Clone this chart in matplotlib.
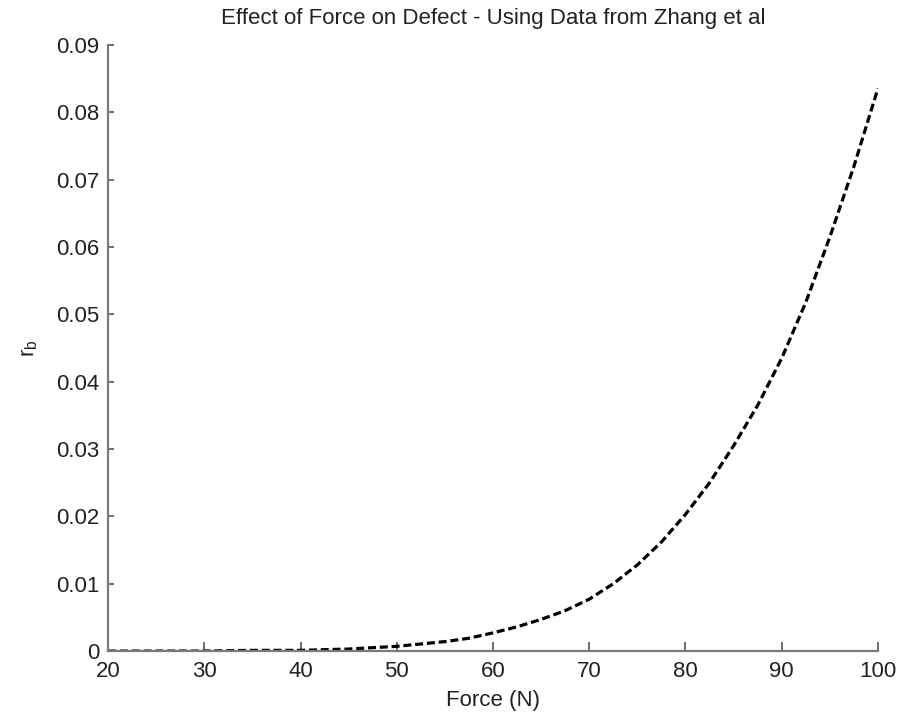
import numpy as np
import matplotlib
matplotlib.use('Agg')
import matplotlib.pyplot as plt

# force values (N) and the defect radius r_b
force = [20, 25, 30, 35, 40, 45, 50, 55, 57.5, 60, 62.5, 65, 67.5, 70, 72.5, 75,
         77.5, 80, 82.5, 85, 87.5, 90, 92.5, 95, 97.5, 100]
r_b = [0.0000, 0.0000, 0.0000, 0.0001, 0.0001, 0.0003, 0.0007, 0.0014, 0.0019, 0.0027,
       0.0036, 0.0047, 0.0060, 0.0077, 0.0100, 0.0128, 0.0162, 0.0203, 0.0250, 0.0305,
       0.0365, 0.0435, 0.0518, 0.0615, 0.0720, 0.0836]

xticks = [20, 30, 40, 50, 60, 70, 80, 90, 100]
yticks = [0, 0.01, 0.02, 0.03, 0.04, 0.05, 0.06, 0.07, 0.08, 0.09]
ytick_labels = ['0', '0.01', '0.02', '0.03', '0.04', '0.05', '0.06', '0.07', '0.08', '0.09']

plt.rcParams['font.family'] = ['Liberation Sans', 'DejaVu Sans']

fig = plt.figure(figsize=(8.98, 7.17), dpi=100)
ax = fig.add_axes([0.1203, 0.092, 0.8574, 0.845])

ax.plot(force, r_b, color='black', linestyle=(0, (2.5, 1.2)), linewidth=2.3)

ax.set_xlim(20, 100)
ax.set_ylim(0, 0.09)
ax.set_xticks(xticks)
ax.set_yticks(yticks)
ax.set_yticklabels(ytick_labels)

for side in ['top', 'right']:
    ax.spines[side].set_visible(False)
for side in ['left', 'bottom']:
    ax.spines[side].set_color('#7a7a7a')
    ax.spines[side].set_linewidth(1.6)

ax.tick_params(axis='both', direction='in', colors='#222222', labelsize=16, width=1.2, color='#555555')
ax.tick_params(axis='x', length=6.5, pad=7)
ax.tick_params(axis='y', length=4.5, pad=6)

ax.set_title('Effect of Force on Defect - Using Data from Zhang et al', fontsize=16, color='#222222', pad=15)
ax.set_xlabel('Force (N)', fontsize=16, color='#222222', labelpad=6)
ax.set_ylabel(r'r$_\mathregular{b}$', fontsize=16, color='#222222', labelpad=12)

fig.savefig('out.png', dpi=100)
